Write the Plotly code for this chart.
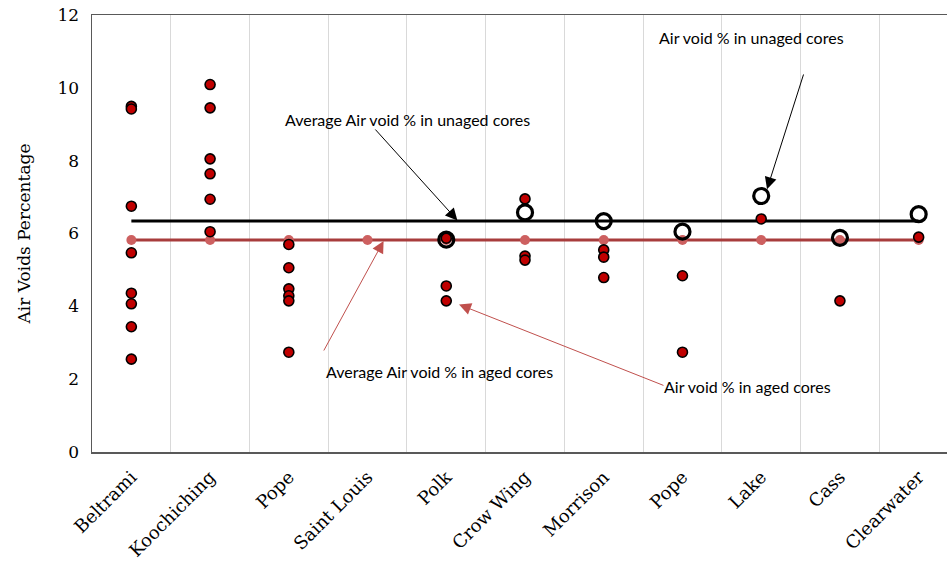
import plotly.graph_objects as go

counties = ["Beltrami", "Koochiching", "Pope", "Saint Louis", "Polk", "Crow Wing",
            "Morrison", "Pope", "Lake", "Cass", "Clearwater"]

# aged core air voids (per county index)
aged_values = [
    [9.49, 9.42, 6.75, 5.47, 4.36, 4.07, 3.44, 2.55],   # Beltrami
    [10.09, 9.45, 8.05, 7.64, 6.94, 6.05],              # Koochiching
    [5.70, 5.06, 4.48, 4.29, 4.15, 2.74],               # Pope
    [],                                                  # Saint Louis
    [5.87, 4.56, 4.15],                                  # Polk
    [6.95, 5.38, 5.27],                                  # Crow Wing
    [5.55, 5.35, 4.79],                                  # Morrison
    [4.84, 2.74],                                        # Pope
    [6.40],                                              # Lake
    [4.15],                                              # Cass
    [5.90],                                              # Clearwater
]

# unaged core air voids (None = not available)
unaged_values = [None, None, None, None, 5.83, 6.58, 6.34, 6.05, 7.03, 5.88, 6.53]

avg_unaged = 6.34
avg_aged = 5.82

y_ticks = [0, 2, 4, 6, 8, 10, 12]

n = len(counties)
xs = list(range(n))

fig = go.Figure()

# average aged line
fig.add_trace(go.Scatter(
    x=xs, y=[avg_aged] * n, mode="lines+markers",
    line=dict(color="#a83c3c", width=3),
    marker=dict(color="#cd6060", size=10),
    showlegend=False, hoverinfo="skip"))

# average unaged line
fig.add_trace(go.Scatter(
    x=xs, y=[avg_unaged] * n, mode="lines",
    line=dict(color="#000000", width=3),
    showlegend=False, hoverinfo="skip"))

# unaged points
ux = [i for i, v in enumerate(unaged_values) if v is not None]
uy = [v for v in unaged_values if v is not None]
fig.add_trace(go.Scatter(
    x=ux, y=uy, mode="markers",
    marker=dict(symbol="circle-open", size=15, color="#000000",
                line=dict(width=3.2, color="#000000")),
    showlegend=False))

# aged points
ax_, ay_ = [], []
for i, vals in enumerate(aged_values):
    for v in vals:
        ax_.append(i)
        ay_.append(v)
fig.add_trace(go.Scatter(
    x=ax_, y=ay_, mode="markers",
    marker=dict(symbol="circle", size=10, color="#c00000",
                line=dict(width=1.6, color="#000000")),
    showlegend=False))

ann_font = dict(family="Lato, Open Sans, sans-serif", size=16, color="#000000")

# arrow tails given in page pixels (tx, ty)
annotations = [
    dict(x=4.15, y=avg_unaged, tx=374, ty=128,
         text="", showarrow=True, arrowhead=2, arrowsize=2.4, arrowwidth=1,
         arrowcolor="#000000", standoff=1),
    dict(x=3.51, y=9.14, text="Average Air void % in unaged cores",
         showarrow=False, font=ann_font),
    dict(x=8.07, y=7.19, tx=804, ty=73,
         text="", showarrow=True, arrowhead=2, arrowsize=2.4, arrowwidth=1,
         arrowcolor="#000000", standoff=1),
    dict(x=7.88, y=11.37, text="Air void % in unaged cores",
         showarrow=False, font=ann_font),
    dict(x=3.21, y=avg_aged, tx=323, ty=352,
         text="", showarrow=True, arrowhead=2, arrowsize=2.4, arrowwidth=1,
         arrowcolor="#c0504d", standoff=1),
    dict(x=3.92, y=2.22, text="Average Air void % in aged cores",
         showarrow=False, font=ann_font),
    dict(x=4.15, y=4.06, tx=665, ty=386,
         text="", showarrow=True, arrowhead=2, arrowsize=2.4, arrowwidth=1,
         arrowcolor="#c0504d", standoff=1),
    dict(x=7.83, y=1.81, text="Air void % in aged cores",
         showarrow=False, font=ann_font),
]

# page body margin is removed by post_script, so figure sits at (0, 0)
X0, XW = -0.5, 10.36
W, H = 948, 561
L, R, T = 92, 1, 15
PH = 437
B = H - T - PH
pw = W - L - R
def px(xv):
    return L + (xv - X0) / (XW - X0) * pw
def py(yv):
    return T + (12 - yv) / 12 * PH
for a in annotations:
    if "tx" in a:
        a["ax"] = a.pop("tx") - px(a["x"])
        a["ay"] = a.pop("ty") - py(a["y"])

fig.update_layout(
    width=W, height=H,
    margin=dict(l=L, r=R, t=T, b=B, pad=0, autoexpand=False),
    plot_bgcolor="#ffffff", paper_bgcolor="#ffffff",
    annotations=annotations,
    hovermode=False,
    xaxis=dict(
        range=[X0, XW], tickmode="array", tickvals=xs, ticktext=counties,
        tickangle=-45, showgrid=False, zeroline=False, automargin=False,
        showline=True, linecolor="#595959", linewidth=1.5, mirror=True,
        ticks="outside", ticklen=6, tickcolor="rgba(0,0,0,0)",
        ticklabeloverflow="allow",
        tickfont=dict(family="DejaVu Serif, serif", size=18, color="#000000"),
        minor=dict(tickvals=[i + 0.5 for i in range(n - 1)], showgrid=True,
                   gridcolor="#d9d9d9", gridwidth=1, ticks=""),
    ),
    yaxis=dict(
        range=[0, 12], tickmode="array", tickvals=y_ticks,
        showgrid=False, zeroline=False, automargin=False,
        showline=True, linecolor="#595959", linewidth=1.5,
        ticks="outside", ticklen=8, tickcolor="rgba(0,0,0,0)",
        ticklabeloverflow="allow",
        tickfont=dict(family="DejaVu Serif, serif", size=17, color="#000000"),
        title=dict(text="Air Voids Percentage",
                   font=dict(family="DejaVu Serif, serif", size=17, color="#000000"),
                   standoff=22),
    ),
)

fig.write_html("out.html",
               config={"displayModeBar": False, "staticPlot": True},
               post_script="document.body.style.margin='0';document.body.style.padding='0';")
